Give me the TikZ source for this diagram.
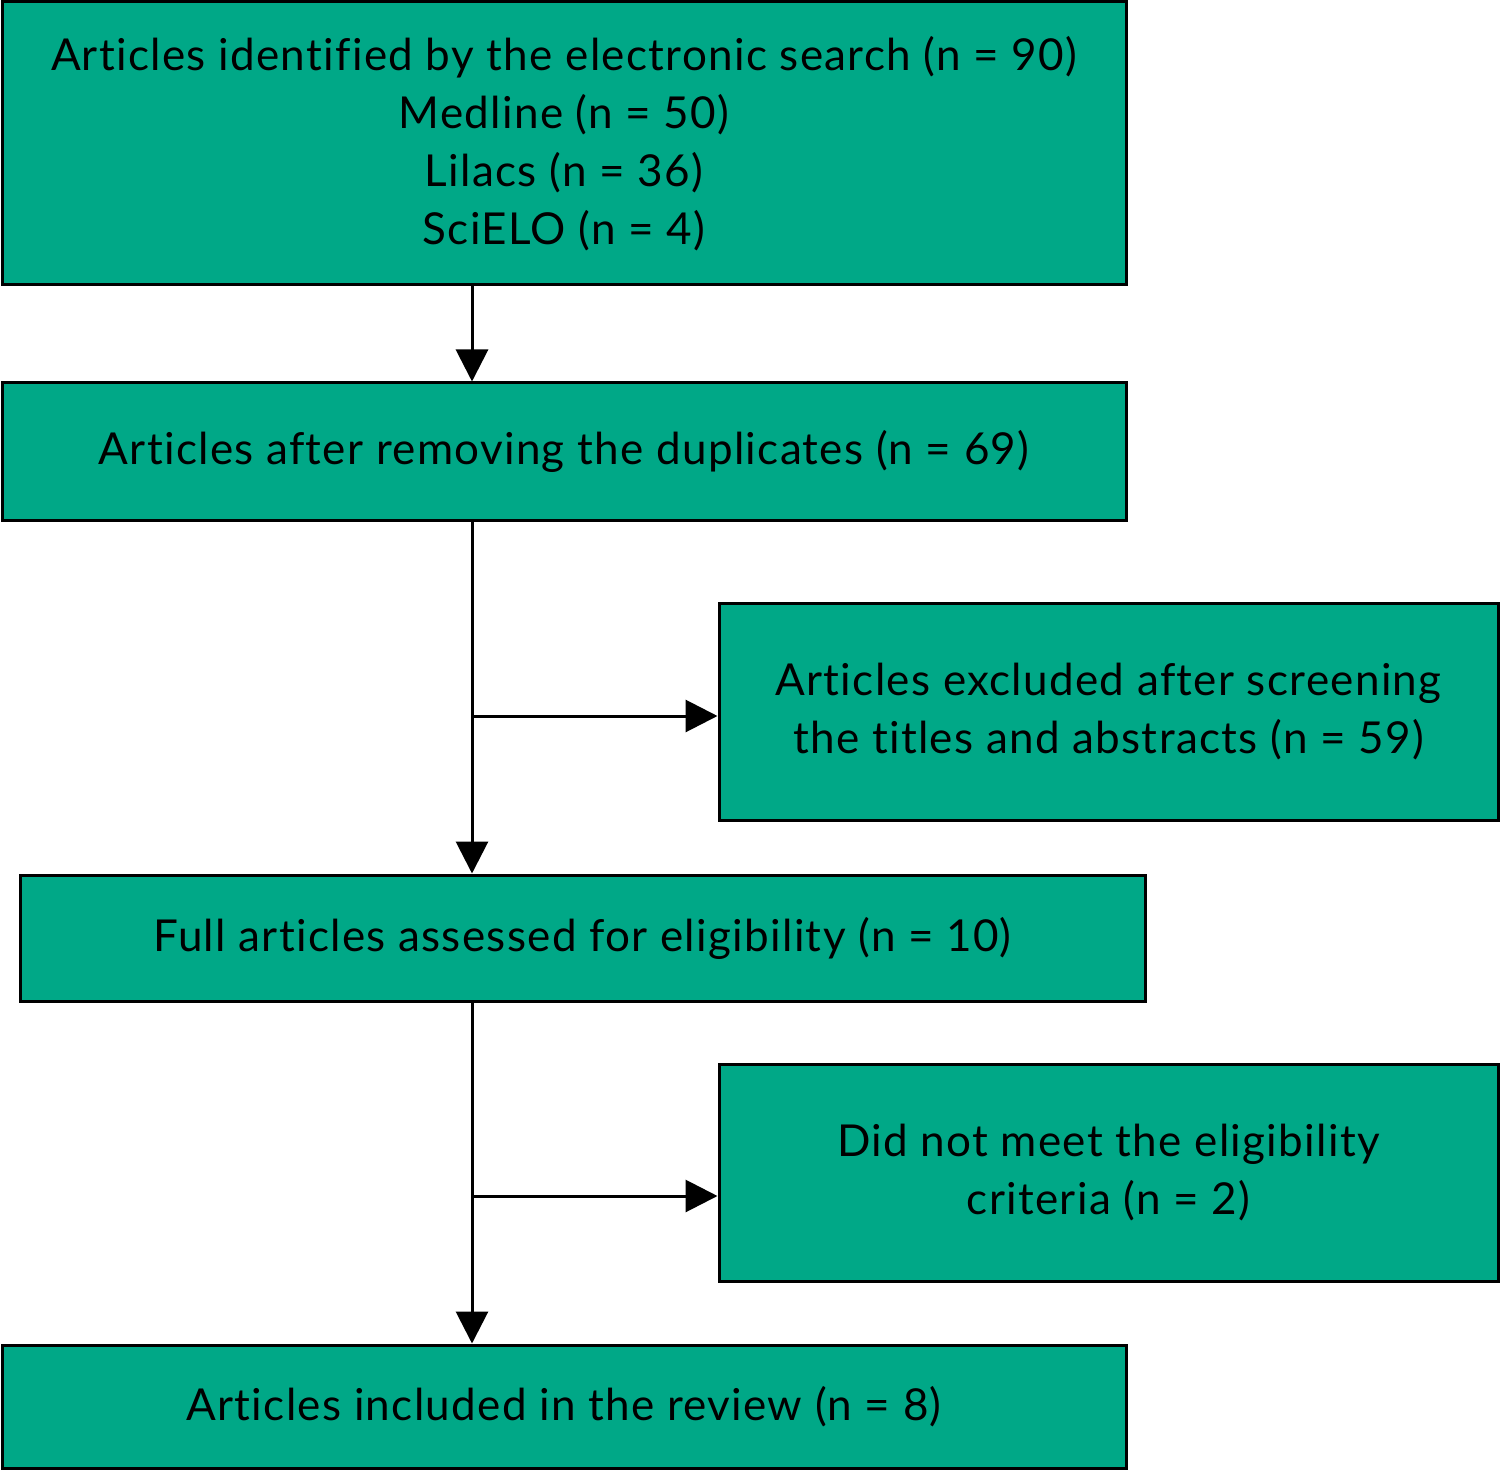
\documentclass[tikz,border=0pt]{standalone}
\usepackage{fontspec}
\setmainfont{Lato}[LetterSpace=3.0,Ligatures=NoCommon]
\usetikzlibrary{arrows.meta}
\definecolor{boxgreen}{HTML}{00A887}
\tikzset{
  flowbox/.style={draw=black, line width=3pt, fill=boxgreen, rectangle, inner sep=0pt, align=center, font=\fontsize{44}{58}\selectfont, text=black},
  flowline/.style={line width=3pt, draw=black},
  flowarrow/.style={flowline, -{Triangle[width=32pt,length=32pt]}}
}
\begin{document}
\begin{tikzpicture}[x=1pt,y=-1pt]
\useasboundingbox (0,0) rectangle (1500,1471);
\node[flowbox, minimum width=1124pt, minimum height=283pt] (b1) at (564,143.5) {Articles identified by the electronic search (n = 90)\\Medline (n = 50)\\Lilacs (n = 36)\\SciELO (n = 4)};
\node[flowbox, minimum width=1124pt, minimum height=137pt] (b2) at (564,451.5) {Articles after removing the duplicates (n = 69)};
\node[flowbox, minimum width=779pt, minimum height=217pt] (b3) at (1108.5,711.5) {Articles excluded after screening\\the titles and abstracts (n = 59)};
\node[flowbox, minimum width=1125pt, minimum height=126pt] (b4) at (582.5,938) {Full articles assessed for eligibility (n = 10)};
\node[flowbox, minimum width=779pt, minimum height=217pt] (b5) at (1108.5,1172.5) {Did not meet the eligibility\\criteria (n = 2)};
\node[flowbox, minimum width=1124pt, minimum height=123pt] (b6) at (564,1406.5) {Articles included in the review (n = 8)};
\coordinate (s1) at (472,716);
\coordinate (s2) at (472,1196);
\draw[flowarrow] (b1.south -| s1) -- (b2.north -| s1);
\draw[flowarrow] (b2.south -| s1) -- (b4.north -| s1);
\draw[flowarrow] (b4.south -| s1) -- (b6.north -| s1);
\draw[flowarrow] (s1) -- (s1 -| b3.west);
\draw[flowarrow] (s2) -- (s2 -| b5.west);
\end{tikzpicture}
\end{document}
